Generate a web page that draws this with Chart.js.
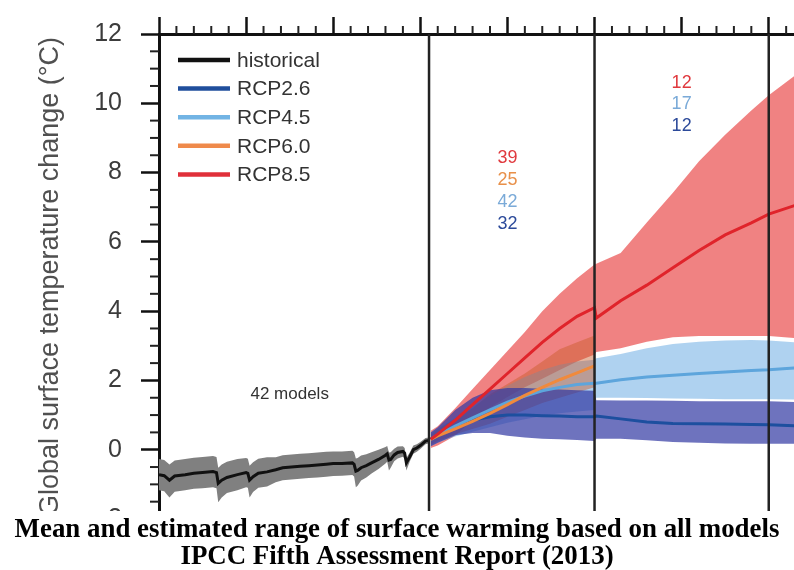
<!DOCTYPE html>
<html>
<head>
<meta charset="utf-8">
<script src="https://cdn.jsdelivr.net/npm/chart.js@4.4.1/dist/chart.umd.min.js"></script>
<style>
  body { margin: 0; background: #fff; }
  canvas { display: block; }
</style>
</head>
<body>
<canvas id="tempChart" width="794" height="570"></canvas>
<script>
// historical (1850-2005)
var histYears = [1850,1853,1856,1859,1865,1870,1875,1881,1883,1884,1886,1889,1895,1900,1901,1902,1904,1907,1912,1917,1921,1926,1931,1936,1941,1946,1950,1955,1961,1962,1963,1964,1966,1969,1972,1976,1980,1981,1982,1983,1985,1987,1990,1991,1992,1994,1996,1998,2000,2003,2005];
var histMean = [-0.72,-0.75,-0.88,-0.76,-0.72,-0.68,-0.66,-0.63,-0.66,-0.97,-0.88,-0.80,-0.72,-0.66,-0.68,-0.88,-0.78,-0.68,-0.64,-0.58,-0.52,-0.50,-0.48,-0.46,-0.44,-0.42,-0.40,-0.40,-0.38,-0.42,-0.62,-0.60,-0.52,-0.46,-0.38,-0.28,-0.16,-0.12,-0.30,-0.28,-0.15,-0.08,-0.05,-0.10,-0.38,-0.20,0.00,0.05,0.12,0.25,0.27];
var histHigh = [-0.27,-0.30,-0.43,-0.31,-0.27,-0.23,-0.21,-0.18,-0.21,-0.52,-0.43,-0.35,-0.27,-0.24,-0.26,-0.46,-0.36,-0.26,-0.22,-0.22,-0.16,-0.14,-0.12,-0.10,-0.08,-0.06,-0.05,-0.05,-0.03,-0.07,-0.25,-0.24,-0.17,-0.13,-0.07,0.00,0.08,0.11,-0.08,-0.07,0.03,0.09,0.10,0.05,-0.24,-0.07,0.12,0.16,0.22,0.34,0.35];
var histLow = [-1.17,-1.20,-1.38,-1.21,-1.17,-1.13,-1.11,-1.08,-1.11,-1.52,-1.38,-1.25,-1.17,-1.08,-1.10,-1.38,-1.22,-1.10,-1.06,-0.94,-0.88,-0.86,-0.84,-0.82,-0.80,-0.78,-0.76,-0.75,-0.73,-0.77,-1.08,-1.04,-0.89,-0.80,-0.69,-0.56,-0.40,-0.35,-0.60,-0.52,-0.33,-0.25,-0.20,-0.25,-0.60,-0.33,-0.12,-0.06,0.02,0.16,0.19];

// projections (2006-2100, then 2101 onwards)
var projYears = [2006,2010,2020,2030,2040,2050,2060,2070,2080,2090,2100,2101,2115,2130,2145,2160,2175,2190,2200,2215];

var rcp85Mean = [0.30,0.45,0.85,1.30,1.75,2.20,2.65,3.10,3.50,3.85,4.10,3.80,4.30,4.75,5.25,5.75,6.20,6.55,6.80,7.05];
var rcp85High = [0.55,0.68,1.20,1.75,2.30,2.85,3.40,4.00,4.50,4.95,5.35,5.37,5.68,6.56,7.42,8.33,9.09,9.79,10.23,10.80];
var rcp85Low  = [0.05,0.12,0.40,0.85,1.22,1.52,1.80,2.05,2.30,2.55,2.75,2.82,2.93,3.12,3.25,3.28,3.28,3.28,3.28,3.22];

var rcp60Mean = [0.30,0.40,0.60,0.82,1.05,1.30,1.57,1.80,2.02,2.22,2.42];
var rcp60High = [0.45,0.60,0.90,1.20,1.60,1.90,2.20,2.55,2.90,3.10,3.30];
var rcp60Low  = [0.15,0.25,0.45,0.60,0.75,0.95,1.15,1.35,1.50,1.65,1.80];

var rcp45Mean = [0.30,0.42,0.68,0.92,1.15,1.37,1.55,1.70,1.80,1.88,1.92,1.92,2.02,2.10,2.15,2.20,2.24,2.29,2.31,2.36];
var rcp45High = [0.50,0.62,0.95,1.25,1.55,1.85,2.10,2.30,2.45,2.55,2.60,2.64,2.76,2.93,3.05,3.12,3.15,3.17,3.15,3.10];
var rcp45Low  = [0.10,0.20,0.38,0.52,0.65,0.78,0.88,0.98,1.05,1.10,1.15,1.50,1.50,1.49,1.48,1.47,1.46,1.46,1.46,1.45];

var rcp26Mean = [0.30,0.40,0.65,0.85,0.95,1.00,1.00,0.98,0.97,0.95,0.95,0.97,0.89,0.80,0.76,0.75,0.74,0.73,0.72,0.69];
var rcp26High = [0.50,0.65,1.15,1.50,1.72,1.78,1.78,1.76,1.74,1.72,1.70,1.43,1.42,1.42,1.41,1.40,1.40,1.40,1.40,1.38];
var rcp26Low  = [0.10,0.20,0.42,0.48,0.48,0.40,0.35,0.32,0.30,0.28,0.25,0.32,0.32,0.27,0.22,0.20,0.18,0.17,0.17,0.17];

var dividerYears = [2005, 2100, 2200];

var legendLabels = ["historical", "RCP2.6", "RCP4.5", "RCP6.0", "RCP8.5"];
var legendColors = ["#111111", "#1f4e9c", "#72b4e4", "#ef8a4b", "#e0303a"];

var counts2100 = ["39", "25", "42", "32"];
var counts2100Colors = ["#e0393e", "#e8904a", "#7aaad8", "#2c4a9a"];
var counts2300 = ["12", "17", "12"];
var counts2300Colors = ["#e0393e", "#7aaad8", "#2c4a9a"];

var captionLines = ["Mean and estimated range of surface warming based on all models",
                    "IPCC Fifth Assessment Report (2013)"];

function pts(xs, ys) {
  var out = [];
  for (var i = 0; i < ys.length; i++) out.push({x: xs[i], y: ys[i]});
  return out;
}

function meanLine(label, xs, ys, color) {
  return { label: label, data: pts(xs, ys), borderColor: color, borderWidth: 3, pointRadius: 0, fill: false };
}
function bandEdge(xs, ys, bg, isTop) {
  return { data: pts(xs, ys), borderColor: 'rgba(0,0,0,0)', borderWidth: 0, pointRadius: 0,
           backgroundColor: bg, fill: isTop ? '+1' : false };
}

Chart.defaults.font.family = '"Liberation Sans", Arial, Helvetica, sans-serif';

var extras = {
  id: 'extras',
  afterDatasetsDraw: function(chart) {
    var ctx = chart.ctx, xs = chart.scales.x, a = chart.chartArea;
    ctx.save();
    ctx.strokeStyle = '#222';
    ctx.lineWidth = 2.5;
    dividerYears.forEach(function(yr) {
      var px = xs.getPixelForValue(yr);
      ctx.beginPath(); ctx.moveTo(px, a.top); ctx.lineTo(px, a.bottom); ctx.stroke();
    });
    ctx.restore();
  },
  afterDraw: function(chart) {
    var ctx = chart.ctx, xs = chart.scales.x, ys = chart.scales.y, a = chart.chartArea;
    ctx.save();

    // minor ticks
    ctx.strokeStyle = '#222';
    ctx.lineWidth = 2;
    for (var yr = 1860; yr <= xs.max; yr += 10) {
      if (yr % 50 === 0) continue;
      var px = xs.getPixelForValue(yr);
      ctx.beginPath(); ctx.moveTo(px, a.top); ctx.lineTo(px, a.top - 8); ctx.stroke();
    }
    for (var v = -1.5; v < 12; v += 0.5) {
      if (v % 2 === 0) continue;
      var py = ys.getPixelForValue(v);
      ctx.beginPath(); ctx.moveTo(a.left, py); ctx.lineTo(a.left - 9, py); ctx.stroke();
    }

    // legend
    ctx.font = '21px "Liberation Sans", Arial, sans-serif';
    ctx.textBaseline = 'middle';
    ctx.textAlign = 'left';
    for (var i = 0; i < legendLabels.length; i++) {
      var ly = 60 + i * 28.6;
      ctx.strokeStyle = legendColors[i];
      ctx.lineWidth = 4.5;
      ctx.beginPath(); ctx.moveTo(178, ly); ctx.lineTo(230, ly); ctx.stroke();
      ctx.fillStyle = '#333';
      ctx.fillText(legendLabels[i], 237, ly + 1);
    }

    // model counts
    ctx.font = '18px "Liberation Sans", Arial, sans-serif';
    ctx.textAlign = 'center';
    var cx1 = xs.getPixelForValue(2050);
    counts2100.forEach(function(t, k) {
      ctx.fillStyle = counts2100Colors[k];
      ctx.fillText(t, cx1, 158 + k * 22);
    });
    var cx2 = xs.getPixelForValue(2150);
    counts2300.forEach(function(t, k) {
      ctx.fillStyle = counts2300Colors[k];
      ctx.fillText(t, cx2, 83 + k * 21.5);
    });
    ctx.font = '17px "Liberation Sans", Arial, sans-serif';
    ctx.fillStyle = '#333';
    ctx.fillText('42 models', xs.getPixelForValue(1925), 394);

    // caption
    ctx.fillStyle = '#fff';
    ctx.fillRect(0, 511, chart.width, chart.height - 511);
    ctx.font = 'bold 27px "Liberation Serif", "Times New Roman", serif';
    var size = 27 * 765 / ctx.measureText(captionLines[0]).width;
    ctx.font = 'bold ' + size.toFixed(2) + 'px "Liberation Serif", "Times New Roman", serif';
    ctx.fillStyle = '#000';
    ctx.textBaseline = 'alphabetic';
    ctx.fillText(captionLines[0], 397, 537);
    ctx.fillText(captionLines[1], 397, 564);
    ctx.restore();
  }
};

var ctxT = document.getElementById("tempChart").getContext('2d');
var tempChart = new Chart(ctxT, {
  type: 'line',
  data: {
    datasets: [
      meanLine('RCP8.5', projYears, rcp85Mean, '#e0242b'),
      meanLine('RCP6.0', projYears, rcp60Mean, '#f08a3c'),
      meanLine('RCP4.5', projYears, rcp45Mean, '#5da5dc'),
      meanLine('RCP2.6', projYears, rcp26Mean, '#1d4f9f'),
      meanLine('historical', histYears, histMean, '#111111'),
      bandEdge(projYears, rcp26High, 'rgba(48,55,162,0.7)', true),
      bandEdge(projYears, rcp26Low, null, false),
      bandEdge(projYears, rcp60High, 'rgba(200,90,40,0.45)', true),
      bandEdge(projYears, rcp60Low, null, false),
      bandEdge(projYears, rcp45High, 'rgba(95,165,225,0.5)', true),
      bandEdge(projYears, rcp45Low, null, false),
      bandEdge(projYears, rcp85High, 'rgba(230,47,47,0.6)', true),
      bandEdge(projYears, rcp85Low, null, false),
      bandEdge(histYears, histHigh, 'rgb(128,128,128)', true),
      bandEdge(histYears, histLow, null, false)
    ]
  },
  options: {
    responsive: false,
    animation: false,
    layout: { padding: { left: 0, right: 0, top: 0, bottom: 51 } },
    elements: { line: { tension: 0 }, point: { radius: 0 } },
    plugins: {
      legend: { display: false },
      tooltip: { enabled: false },
      filler: { drawTime: 'beforeDatasetsDraw' }
    },
    scales: {
      x: {
        type: 'linear',
        position: 'top',
        min: 1850,
        max: 2214.5,
        afterFit: function(s) { s.height = 30; },
        ticks: { display: false, stepSize: 50, includeBounds: false },
        grid: { drawOnChartArea: false, tickLength: 17, tickWidth: 2.5, tickColor: '#111' },
        border: { width: 3, color: '#111' }
      },
      y: {
        min: -2,
        max: 12,
        afterFit: function(s) { s.width = 159; },
        ticks: { stepSize: 2, padding: 19, color: '#3c3c3c', font: { size: 25 } },
        grid: { drawOnChartArea: false, tickLength: 18, tickWidth: 2.5, tickColor: '#111' },
        border: { width: 3, color: '#111' },
        title: { display: true, text: 'Global surface temperature change (°C)', color: '#505050',
                 font: { size: 27 }, padding: { top: 34, bottom: 0 } }
      }
    }
  },
  plugins: [extras]
});
</script>
</body>
</html>
